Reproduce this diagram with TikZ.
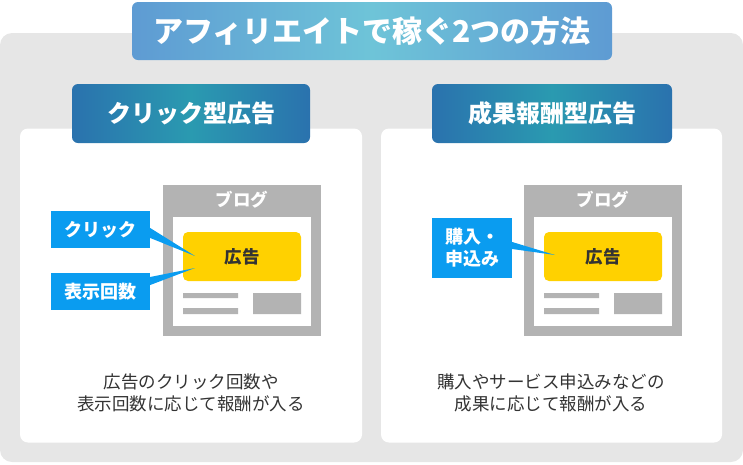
\documentclass[tikz,border=0pt]{standalone}
\usepackage{fontspec}
\setmainfont{Noto Sans CJK JP}
\definecolor{bggray}{HTML}{E6E6E6}
\definecolor{framegray}{HTML}{B3B3B3}
\definecolor{callblue}{HTML}{0A9CF0}
\definecolor{adyellow}{HTML}{FFD100}
\definecolor{ink}{HTML}{333333}
\definecolor{skyside}{HTML}{5E9BD3}
\definecolor{skymid}{HTML}{6EC4D8}
\definecolor{deepside}{HTML}{2A72AE}
\definecolor{deepmid}{HTML}{2A9AB0}

\tikzset{
  panel/.style={fill=white,rounded corners=8pt,minimum height=314pt},
  heading/.style={rounded corners=6pt,left color=deepside,right color=deepside,middle color=deepmid,
    text=white,font=\bfseries\fontsize{24}{26}\selectfont,minimum height=59pt},
  callout/.style={fill=callblue,text=white,align=center,inner sep=0pt,
    font=\bfseries\fontsize{18}{22}\selectfont},
  adbox/.style={fill=adyellow,rounded corners=5pt,text=ink,minimum width=118pt,minimum height=49pt,
    font=\bfseries\fontsize{17.5}{20}\selectfont},
  blogname/.style={text=white,font=\bfseries\fontsize{17.5}{20}\selectfont},
  caption/.style={text=ink,align=center,font=\fontsize{17.5}{22}\selectfont}
}

\begin{document}
\begin{tikzpicture}[x=1pt,y=-1pt]
  \useasboundingbox (0,0) rectangle (743,464);
  \fill[bggray,rounded corners=12pt] (0,33) rectangle (743,462);
  \node[rounded corners=6pt,left color=skyside,right color=skyside,middle color=skymid,text=white,
    font=\bfseries\fontsize{30}{32}\selectfont,minimum width=480pt,minimum height=58pt]
    (title) at (372,31) {アフィリエイトで稼ぐ2つの方法};

  \node[panel,minimum width=342pt] (leftpanel) at (191,285.5) {};
  \node[panel,minimum width=341pt] (rightpanel) at (551.5,285.5) {};
  \node[heading,minimum width=238pt] (clicktype) at (191,113.5) {クリック型広告};
  \node[heading,minimum width=240pt] (resulttype) at (552,113.5) {成果報酬型広告};

  \foreach \bx/\s in {0/l,361/r}{
    \fill[framegray] (163+\bx,185) rectangle (321+\bx,336);
    \fill[white] (173+\bx,217) rectangle (311+\bx,326);
    \node[blogname] (blog\s) at (242+\bx,200) {ブログ};
    \node[adbox] (ad\s) at (242+\bx,256.5) {広告};
    \fill[framegray] (183+\bx,293) rectangle (238+\bx,298)
      (183+\bx,308) rectangle (238+\bx,314)
      (253+\bx,293) rectangle (301+\bx,314);
  }

  \node[callout,minimum width=99pt,minimum height=37pt] (click) at (100.5,229.5) {クリック};
  \node[callout,minimum width=99pt,minimum height=37pt] (impression) at (100.5,291.5) {表示回数};
  \node[callout,minimum width=80pt,minimum height=60pt] (purchase) at (472,248) {購入・\\申込み};
  \coordinate (clicktip) at (195,256);
  \coordinate (impressiontip) at (195,268);
  \coordinate (purchasetip) at (555,255);
  \fill[callblue] ([yshift=1.5pt]click.east) -- (clicktip) -- ([yshift=-8.5pt]click.east) -- cycle;
  \fill[callblue] ([yshift=14.5pt]impression.east) -- (impressiontip) -- ([yshift=6.5pt]impression.east) -- cycle;
  \fill[callblue] ([yshift=6pt]purchase.east) -- (purchasetip) -- ([yshift=-1pt]purchase.east) -- cycle;

  \node[caption] (clicknote) at (191,393) {広告のクリック回数や\\表示回数に応じて報酬が入る};
  \node[caption] (resultnote) at (551,393) {購入やサービス申込みなどの\\成果に応じて報酬が入る};
\end{tikzpicture}
\end{document}
